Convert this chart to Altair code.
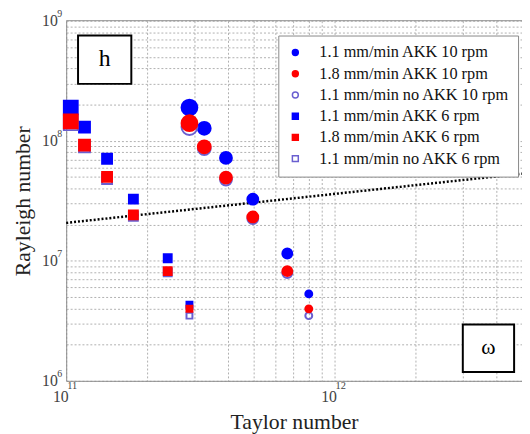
import altair as alt
import pandas as pd

series_names = [
    "1.1 mm/min AKK 10 rpm",
    "1.8 mm/min AKK 10 rpm",
    "1.1 mm/min no AKK 10 rpm",
    "1.1 mm/min  AKK 6 rpm",
    "1.8 mm/min AKK 6 rpm",
    "1.1 mm/min no AKK 6 rpm",
]

# Taylor numbers (x) for each rpm group
ta_10rpm = [2.88e11, 3.27e11, 3.94e11, 4.96e11, 6.67e11, 8.02e11]
ta_6rpm = [1.04e11, 1.17e11, 1.42e11, 1.78e11, 2.39e11, 2.88e11]

# Rayleigh numbers (y)
ra_11_akk_10 = [1.89e8, 1.27e8, 7.2e7, 3.26e7, 1.15e7, 5.3e6]
ra_18_akk_10 = [1.40e8, 8.9e7, 4.93e7, 2.32e7, 8.2e6, 3.98e6]
ra_11_noakk_10 = [1.30e8, 8.6e7, 4.75e7, 2.25e7, 7.9e6, 3.49e6]
ra_11_akk_6 = [1.89e8, 1.30e8, 7.08e7, 3.26e7, 1.05e7, 4.3e6]
ra_18_akk_6 = [1.45e8, 9.2e7, 5.0e7, 2.41e7, 8.2e6, 3.98e6]
ra_11_noakk_6 = [1.40e8, 8.9e7, 4.8e7, 2.35e7, 8.0e6, 3.49e6]

# dotted fit line end points
fit_ta = [1e11, 5e12]
fit_ra = [2.07e7, 5.32e7]

x_tick_values = [1e11, 2e11, 3e11, 4e11, 5e11, 6e11, 7e11, 8e11, 9e11,
                 1e12, 2e12, 3e12, 4e12, 5e12]
y_tick_values = [1e6, 2e6, 3e6, 4e6, 5e6, 6e6, 7e6, 8e6, 9e6,
                 1e7, 2e7, 3e7, 4e7, 5e7, 6e7, 7e7, 8e7, 9e7,
                 1e8, 2e8, 3e8, 4e8, 5e8, 6e8, 7e8, 8e8, 9e8, 1e9]
x_label_decades = [1e11, 1e12]
x_label_exponents = ["11", "12"]
y_label_decades = [1e6, 1e7, 1e8, 1e9]
y_label_exponents = ["6", "7", "8", "9"]

# drawing order: blue, hollow, red ; marker key: circles 0..5, squares 6..11
groups = [
    (series_names[3], ta_6rpm, ra_11_akk_6, 6),
    (series_names[0], ta_10rpm, ra_11_akk_10, 0),
    (series_names[5], ta_6rpm, ra_11_noakk_6, 6),
    (series_names[2], ta_10rpm, ra_11_noakk_10, 0),
    (series_names[4], ta_6rpm, ra_18_akk_6, 6),
    (series_names[1], ta_10rpm, ra_18_akk_10, 0),
]
rows = []
for name, xs, ys, base in groups:
    for i, (xv, yv) in enumerate(zip(xs, ys)):
        rows.append({"series": name, "ta": xv, "ra": yv, "mk": base + i,
                     "order": len(rows)})
df = pd.DataFrame(rows)
fit_df = pd.DataFrame({"ta": fit_ta, "ra": fit_ra})
xexp_df = pd.DataFrame({"ta": x_label_decades, "t": x_label_exponents})
yexp_df = pd.DataFrame({"ra": y_label_decades, "t": y_label_exponents})

FONT = "Liberation Serif"

xscale = alt.Scale(type="log", domain=[1e11, 5e12], nice=False)
yscale = alt.Scale(type="log", domain=[1e6, 1e9], nice=False)

xaxis = alt.Axis(
    values=x_tick_values,
    labelExpr="(datum.value == 1e11 || datum.value == 1e12) ? '10' : ''",
    title="Taylor number", grid=True, gridDash=[2, 2], gridColor="#b0b0b0",
    ticks=False, domainColor="#8a8a8a", labelPadding=8, labelFontSize=16,
    labelOffset=-6,
    labelColor="#444", titleFontSize=22, titleColor="#222", titlePadding=7,
    labelFlush=False, labelOverlap=False,
)
yaxis = alt.Axis(
    values=y_tick_values,
    labelExpr="(datum.value == 1e6 || datum.value == 1e7 || datum.value == 1e8 || datum.value == 1e9) ? '10' : ''",
    title="Rayleigh number", grid=True, gridDash=[2, 2], gridColor="#b0b0b0",
    ticks=False, domainColor="#8a8a8a", labelPadding=9, labelFontSize=16,
    labelColor="#444", titleFontSize=22, titleColor="#222", titlePadding=7,
    labelFlush=False, labelOverlap=False,
)

fit = alt.Chart(fit_df).mark_line(color="black", strokeDash=[2, 2], strokeWidth=2.5).encode(
    x=alt.X("ta:Q", scale=xscale, axis=xaxis),
    y=alt.Y("ra:Q", scale=yscale, axis=yaxis),
)

legend = alt.Legend(
    title=None, orient="none", legendX=215, legendY=15, padding=9,
    strokeColor="#888", fillColor="white", labelFont=FONT, labelFontSize=16.5,
    labelColor="#111", symbolSize=36, rowPadding=4.5, labelOffset=16,
    symbolStrokeWidth=1.5, labelLimit=0,
)

fill_range = ["#0000ff", "#ff0000", "transparent", "#0000ff", "#ff0000", "transparent"]
stroke_range = ["#0000ff", "#ff0000", "#6a5fd0", "#0000ff", "#ff0000", "#6a5fd0"]
shape_range = ["circle", "circle", "circle", "square", "square", "square"]

size_thresholds = [1, 2, 3, 4, 5, 6, 7, 8, 9, 10, 11]
size_range = [256, 169, 144, 121, 100, 49, 196, 121, 100, 81, 64, 36]

points = alt.Chart(df).mark_point(opacity=1, strokeWidth=2).encode(
    x=alt.X("ta:Q", scale=xscale, axis=xaxis),
    y=alt.Y("ra:Q", scale=yscale, axis=yaxis),
    fill=alt.Fill("series:N", scale=alt.Scale(domain=series_names, range=fill_range), legend=legend),
    stroke=alt.Stroke("series:N", scale=alt.Scale(domain=series_names, range=stroke_range), legend=legend),
    shape=alt.Shape("series:N", scale=alt.Scale(domain=series_names, range=shape_range), legend=legend),
    size=alt.Size("mk:Q", scale=alt.Scale(type="threshold", domain=size_thresholds, range=size_range), legend=None),
    order=alt.Order("order:Q"),
)

xexp = alt.Chart(xexp_df).mark_text(font=FONT, fontSize=10.5, color="#444", align="left",
                                    baseline="alphabetic", dx=1).encode(
    x=alt.X("ta:Q", scale=xscale, axis=xaxis),
    y=alt.value(373),
    text="t:N",
)
yexp = alt.Chart(yexp_df).mark_text(font=FONT, fontSize=10, color="#444", align="left",
                                    baseline="alphabetic", dy=-3.5).encode(
    y=alt.Y("ra:Q", scale=yscale, axis=yaxis),
    x=alt.value(-9),
    text="t:N",
)

one = alt.Data(values=[{}])
top_border = alt.Chart(one).mark_rule(color="#8a8a8a").encode(
    x=alt.value(0), x2=alt.value(462), y=alt.value(0)
)
h_box = alt.Chart(one).mark_rect(fill="white", stroke="black", strokeWidth=2).encode(
    x=alt.value(12), x2=alt.value(66), y=alt.value(15), y2=alt.value(64)
)
h_text = alt.Chart(one).mark_text(text="h", font=FONT, fontSize=24, color="black",
                                  baseline="middle", align="center").encode(
    x=alt.value(39), y=alt.value(39)
)
w_box = alt.Chart(one).mark_rect(fill="white", stroke="black", strokeWidth=2).encode(
    x=alt.value(402), x2=alt.value(454), y=alt.value(308), y2=alt.value(356)
)
w_text = alt.Chart(one).mark_text(text="ω", font=FONT, fontSize=22, color="black",
                                  baseline="middle", align="center").encode(
    x=alt.value(428), y=alt.value(331)
)

chart = alt.layer(fit, points, xexp, yexp, top_border, h_box, h_text, w_box, w_text).properties(
    width=462, height=365,
    padding={"left": 59, "top": 10, "right": 0, "bottom": 51},
    autosize=alt.AutoSizeParams(type="none"),
).configure_view(stroke=None).configure_axis(
    labelFont=FONT, titleFont=FONT, titleFontWeight="normal"
)

chart.save("out.html", embed_options={"renderer": "svg", "actions": False})
